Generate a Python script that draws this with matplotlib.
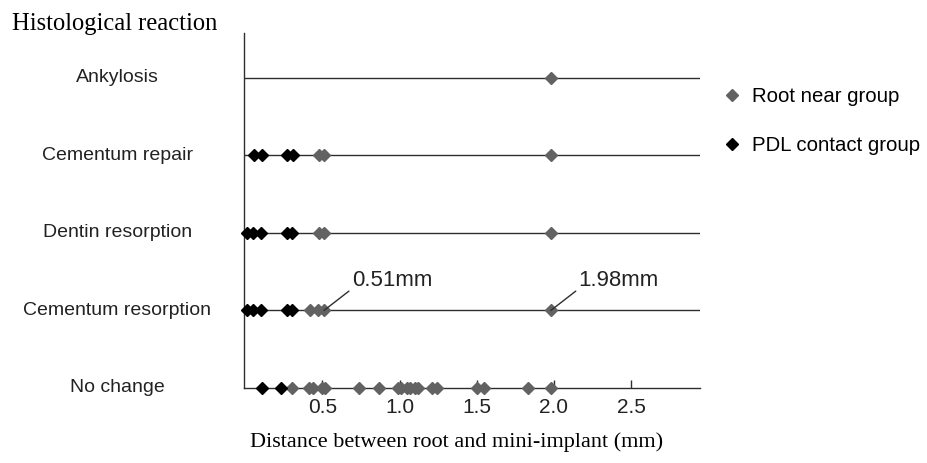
import matplotlib
matplotlib.use("Agg")
import matplotlib.pyplot as plt
from matplotlib.lines import Line2D

# --- data ---
reactions = ["No change", "Cementum resorption", "Dentin resorption",
             "Cementum repair", "Ankylosis"]

# distances (mm) per reaction row, root near group (grey)
root_near = {
    "No change": [0.30, 0.41, 0.44, 0.50, 0.52, 0.74, 0.87, 0.99, 1.01, 1.05,
                  1.07, 1.10, 1.12, 1.21, 1.24, 1.50, 1.55, 1.83, 1.98],
    "Cementum resorption": [0.42, 0.47, 0.51, 1.98],
    "Dentin resorption": [0.48, 0.51, 1.98],
    "Cementum repair": [0.48, 0.51, 1.98],
    "Ankylosis": [1.98],
}

# PDL contact group (black)
pdl_contact = {
    "No change": [0.11, 0.23],
    "Cementum resorption": [0.01, 0.05, 0.10, 0.27, 0.30],
    "Dentin resorption": [0.01, 0.05, 0.10, 0.27, 0.30],
    "Cementum repair": [0.06, 0.11, 0.27, 0.31],
    "Ankylosis": [],
}

xticks = [0.5, 1.0, 1.5, 2.0, 2.5]
xticklabels = ["0.5", "1.0", "1.5", "2.0", "2.5"]

annotations = [("0.51mm", 0.51, "Cementum resorption"),
               ("1.98mm", 1.98, "Cementum resorption")]

grey = "#626262"
dark = "#2e2e2e"
sans = "Liberation Sans"
serif = "Liberation Serif"

# --- figure ---
fig = plt.figure(figsize=(9.28, 4.63), dpi=100)
ax = fig.add_axes([244 / 928, 75 / 463, 456 / 928, 355 / 463])

xmin, xmax = -0.008, 2.947
ax.set_xlim(xmin, xmax)
ax.set_ylim(0, 4.58)

# horizontal row lines (row 0 is the x axis itself)
for i in range(1, len(reactions)):
    ax.hlines(i, xmin, xmax, color=dark, lw=1.0, zorder=1)

for i, r in enumerate(reactions):
    xs = root_near[r]
    ax.plot(xs, [i] * len(xs), "D", ms=6, color=grey, mec=grey, zorder=3,
            clip_on=False)
    xs = pdl_contact[r]
    ax.plot(xs, [i] * len(xs), "D", ms=6, color="black", mec="black",
            zorder=4, clip_on=False)
    ax.text(-0.278, i, r, transform=ax.get_yaxis_transform(), ha="center",
            va="center", fontsize=14, family=sans, color="#222222")

for label, x, r in annotations:
    y = reactions.index(r)
    ax.annotate(label, xy=(x, y), xytext=(20, 14), textcoords="offset points",
                ha="left", va="bottom", fontsize=16, family=sans,
                color="#222222",
                arrowprops=dict(arrowstyle="-", color=dark, lw=1.0,
                                shrinkA=0, shrinkB=0, relpos=(0, 0.1)))

for s in ["top", "right"]:
    ax.spines[s].set_visible(False)
for s in ["left", "bottom"]:
    ax.spines[s].set_color(dark)
    ax.spines[s].set_linewidth(1.0)

ax.set_yticks([])
ax.set_xticks(xticks)
ax.set_xticklabels(xticklabels, family=sans, fontsize=15, color="#222222")
ax.tick_params(axis="x", direction="in", length=6, width=1, color=dark, pad=7)

handles = [Line2D([], [], marker="D", ls="none", ms=6, color=grey),
           Line2D([], [], marker="D", ls="none", ms=6, color="black")]
fig.legend(handles, ["Root near group", "PDL contact group"],
           loc="center left", bbox_to_anchor=(722 / 928, 1 - 121 / 463),
           frameon=False, handlelength=1.0, handletextpad=0.45,
           labelspacing=1.45, prop=dict(family=sans, size=14.7),
           borderaxespad=0, borderpad=0)

fig.text(12 / 928, 1 - 30 / 463, "Histological reaction", family=serif,
         fontsize=17.7, va="baseline", ha="left")
fig.text(457 / 928, 1 - 442 / 463,
         "Distance between root and mini-implant (mm)", family=serif,
         fontsize=16, va="center", ha="center")

fig.savefig("out.png", dpi=100)
